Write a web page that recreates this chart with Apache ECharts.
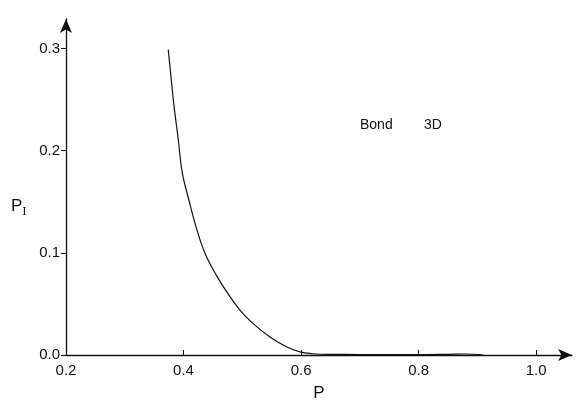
<!DOCTYPE html>
<html>
<head>
    <meta charset="utf-8">
    <title>Bond 3D</title>
    <script src="https://cdn.jsdelivr.net/npm/echarts@6/dist/echarts.min.js"></script>
</head>
<body style="margin:0">
<div id="main" style="width:581px;height:400px;"></div>
<script type="text/javascript">
    // curve
    var pValues = [0.374, 0.378, 0.384, 0.391, 0.398, 0.409, 0.422, 0.437, 0.457, 0.471, 0.496, 0.518, 0.547, 0.576, 0.598, 0.62, 0.65, 0.70, 0.75, 0.80, 0.85, 0.88, 0.91];
    var piValues = [0.299, 0.276, 0.243, 0.211, 0.178, 0.152, 0.124, 0.099, 0.077, 0.064, 0.044, 0.031, 0.0176, 0.0078, 0.003, 0.0012, 0.0006, 0.0005, 0.0004, 0.0004, 0.0007, 0.0010, 0.0];
    var xTicks = [0.2, 0.4, 0.6, 0.8, 1.0];
    var yTicks = [0.0, 0.1, 0.2, 0.3];

    var font = 'Liberation Sans, Arial, sans-serif';
    var myChart = echarts.init(document.getElementById('main'));

    var points = pValues.map(function (p, i) {
        return [p, piValues[i]];
    });

    myChart.setOption({
        animation: false,
        backgroundColor: '#fff',
        grid: {left: 66, right: 9, top: 19, bottom: 45, outerBoundsMode: 'none'},
        xAxis: {
            type: 'value',
            min: 0.2,
            max: 1.061,
            name: 'P',
            nameLocation: 'middle',
            nameGap: 30,
            nameTextStyle: {color: '#111', fontSize: 17, fontFamily: font},
            splitLine: {show: false},
            axisLine: {
                lineStyle: {color: '#111', width: 1.3},
                symbol: ['none', 'arrow'],
                symbolSize: [9, 14]
            },
            axisTick: {inside: true, length: 5, customValues: xTicks, lineStyle: {color: '#111'}},
            axisLabel: {
                customValues: xTicks,
                color: '#111', fontSize: 15, fontFamily: font, margin: 8,
                formatter: function (v) { return v.toFixed(1); }
            }
        },
        yAxis: {
            type: 'value',
            min: 0,
            max: 0.329,
            splitLine: {show: false},
            axisLine: {
                lineStyle: {color: '#111', width: 1.3},
                symbol: ['none', 'arrow'],
                symbolSize: [9, 14]
            },
            axisTick: {length: 5, customValues: yTicks, lineStyle: {color: '#111'}},
            axisLabel: {
                customValues: yTicks,
                color: '#111', fontSize: 15, fontFamily: font, margin: 6,
                formatter: function (v) { return v.toFixed(1); }
            }
        },
        graphic: [
            {
                type: 'text', left: 11, top: 198,
                style: {
                    text: '{a|P}{b|I}',
                    rich: {
                        a: {fontSize: 17, fontFamily: font, fill: '#111'},
                        b: {fontSize: 11, fontFamily: 'DejaVu Serif, serif', fill: '#111', padding: [12, 0, 0, 0]}
                    }
                }
            },
            {type: 'text', left: 360, top: 118, style: {text: 'Bond', fontSize: 14, fontFamily: font, fill: '#111'}},
            {type: 'text', left: 424, top: 118, style: {text: '3D', fontSize: 14, fontFamily: font, fill: '#111'}}
        ],
        series: [{
            type: 'line',
            data: points,
            smooth: 0.4,
            showSymbol: false,
            lineStyle: {color: '#111', width: 1.2}
        }]
    });
</script>
</body>
</html>
